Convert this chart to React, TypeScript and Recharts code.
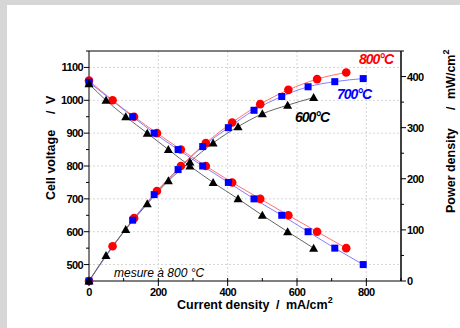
import React from 'react';
import { ComposedChart, Line, XAxis, YAxis, ReferenceLine } from 'recharts';

// current density (mA/cm2), cell voltage (mV), power density (mW/cm2)
const current800 = [0, 68, 130, 196, 265, 337, 413, 494, 575, 658, 742];
const voltage800 = [1060, 1000, 950, 900, 850, 800, 750, 700, 650, 600, 550];
const power800 = [0, 68, 123, 176, 225, 270, 310, 346, 374, 395, 408];

const current700 = [0, 126, 188, 257, 328, 402, 476, 556, 632, 709, 791];
const voltage700 = [1055, 950, 900, 850, 800, 750, 700, 650, 600, 550, 500];
const power700 = [0, 119, 169, 218, 263, 300, 334, 361, 380, 390, 396];

const current600 = [0, 49, 106, 168, 229, 291, 358, 430, 500, 573, 648];
const voltage600 = [1050, 1000, 950, 900, 850, 800, 750, 700, 650, 600, 550];
const power600 = [0, 50, 101, 151, 196, 233, 270, 302, 327, 344, 359];

const xTicks = [0, 100, 200, 300, 400, 500, 600, 700, 800, 900];
const vTicks = [450, 500, 550, 600, 650, 700, 750, 800, 850, 900, 950, 1000, 1050, 1100, 1150];
const pTicks = [0, 50, 100, 150, 200, 250, 300, 350, 400, 450];
const xGrid = [200, 400, 600, 800];
const vGrid = [500, 600, 700, 800, 900, 1000, 1100];

const build = (c: number[], v: number[], p: number[]) => c.map((x, i) => ({ x, v: v[i], p: p[i] }));
const s800 = build(current800, voltage800, power800);
const s700 = build(current700, voltage700, power700);
const s600 = build(current600, voltage600, power600);

const tickFont = { fontFamily: 'Liberation Sans, Arial, sans-serif', fontSize: 11, fontWeight: 700, letterSpacing: -0.6 };

const BottomTick = (props: any) => {
  const { x, y, payload } = props;
  const v = payload.value;
  const major = v % 200 === 0 && v <= 800;
  return (
    <g>
      {major ? (
        <line x1={x} y1={y - 3} x2={x} y2={y + 5} stroke="#000" />
      ) : (
        <line x1={x} y1={y} x2={x} y2={y - 3} stroke="#000" />
      )}
      {major && (
        <text x={x} y={y + 15} textAnchor="middle" fill="#000" style={tickFont}>{v}</text>
      )}
    </g>
  );
};

const TopTick = (props: any) => {
  const { x, y } = props;
  return <line x1={x} y1={y} x2={x} y2={y + 4} stroke="#000" />;
};

const LeftTick = (props: any) => {
  const { x, y, payload } = props;
  const v = payload.value;
  const major = v % 100 === 0;
  return (
    <g>
      <line x1={x} y1={y} x2={x - (major ? 5 : 3)} y2={y} stroke="#000" />
      {major && (
        <text x={x - 6} y={y + 4} textAnchor="end" fill="#000" style={tickFont}>{v}</text>
      )}
    </g>
  );
};

const RightTick = (props: any) => {
  const { x, y, payload } = props;
  const v = payload.value;
  const major = v % 100 === 0;
  return (
    <g>
      <line x1={x} y1={y} x2={x + (major ? 5 : 3)} y2={y} stroke="#000" />
      {major && (
        <text x={x + 6} y={y + 4} textAnchor="start" fill="#000" style={tickFont}>{v}</text>
      )}
    </g>
  );
};

const Circle = (props: any) => {
  const { cx, cy, key } = props;
  return <circle key={key} cx={cx} cy={cy} r={4.3} fill="#ff0000" />;
};
const Square = (props: any) => {
  const { cx, cy, key } = props;
  return <rect key={key} x={cx - 3.5} y={cy - 3.5} width={7} height={7} fill="#0000ff" />;
};
const Triangle = (props: any) => {
  const { cx, cy, key } = props;
  return <polygon key={key} points={`${cx},${cy - 4.5} ${cx - 4.5},${cy + 3.5} ${cx + 4.5},${cy + 3.5}`} fill="#000" />;
};

const title = { fontFamily: 'Liberation Sans, Arial, sans-serif', fontSize: 12.5, fontWeight: 700 };
const tempLabel = { fontFamily: 'Liberation Sans, Arial, sans-serif', fontSize: 14, fontWeight: 700, fontStyle: 'italic' as const, letterSpacing: -1 };

export default function App() {
  return (
    <div style={{ position: 'absolute', left: 0, top: 0, width: 460, height: 328, background: '#d6d6d6', overflow: 'hidden' }}>
      <div style={{ position: 'absolute', left: 7, top: 5, width: 460, height: 340, background: '#fff' }} />
      <div style={{ position: 'absolute', left: 0, top: 0 }}>
        <ComposedChart width={460} height={328} margin={{ top: 0, right: 0, bottom: 0, left: 0 }}>
          <XAxis xAxisId="b" dataKey="x" type="number" domain={[0, 900]} ticks={xTicks} height={47}
            tickSize={0} tickMargin={0} tick={<BottomTick />} axisLine={{ stroke: '#000' }} interval={0} />
          <XAxis xAxisId="t" orientation="top" dataKey="x" type="number" domain={[0, 900]} ticks={xTicks} height={51}
            tickSize={0} tickMargin={0} tick={<TopTick />} axisLine={{ stroke: '#000' }} interval={0} />
          <YAxis yAxisId="v" type="number" domain={[450, 1150]} ticks={vTicks} width={89}
            tickSize={0} tickMargin={0} tick={<LeftTick />} axisLine={{ stroke: '#000' }} interval={0} />
          <YAxis yAxisId="p" orientation="right" type="number" domain={[0, 450]} ticks={pTicks} width={59}
            tickSize={0} tickMargin={0} tick={<RightTick />} axisLine={{ stroke: '#000' }} interval={0} />
          {xGrid.map((g) => (
            <ReferenceLine key={'x' + g} x={g} xAxisId="b" yAxisId="v" stroke="#d4d4d4" strokeDasharray="2 2" />
          ))}
          {vGrid.map((g) => (
            <ReferenceLine key={'y' + g} y={g} xAxisId="b" yAxisId="v" stroke="#d4d4d4" strokeDasharray="2 2" />
          ))}
          <Line data={s800} xAxisId="b" yAxisId="v" dataKey="v" type="monotone" stroke="#ff7070" strokeWidth={1} dot={Circle} isAnimationActive={false} />
          <Line data={s800} xAxisId="b" yAxisId="p" dataKey="p" type="monotone" stroke="#ff7070" strokeWidth={1} dot={Circle} isAnimationActive={false} />
          <Line data={s700} xAxisId="b" yAxisId="v" dataKey="v" type="monotone" stroke="#8080ff" strokeWidth={1} dot={Square} isAnimationActive={false} />
          <Line data={s700} xAxisId="b" yAxisId="p" dataKey="p" type="monotone" stroke="#8080ff" strokeWidth={1} dot={Square} isAnimationActive={false} />
          <Line data={s600} xAxisId="b" yAxisId="v" dataKey="v" type="monotone" stroke="#666" strokeWidth={1} dot={Triangle} isAnimationActive={false} />
          <Line data={s600} xAxisId="b" yAxisId="p" dataKey="p" type="monotone" stroke="#666" strokeWidth={1} dot={Triangle} isAnimationActive={false} />
        </ComposedChart>
      </div>
      <svg width={460} height={328} style={{ position: 'absolute', left: 0, top: 0, pointerEvents: 'none' }}>
        <line x1={401} y1={51} x2={401} y2={281} stroke="#000" />
        <text x={359} y={64} fill="#ff0000" style={tempLabel}>800°C</text>
        <text x={337} y={99} fill="#0000ff" style={tempLabel}>700°C</text>
        <text x={295} y={122} fill="#000" style={tempLabel}>600°C</text>
        <text x={114} y={277} fill="#000" style={{ fontFamily: 'Liberation Sans, Arial, sans-serif', fontSize: 12, fontStyle: 'italic' }}>mesure à 800 °C</text>
        <text y={309} fill="#000" style={title}>
          <tspan x={177}>Current density</tspan>
          <tspan x={276}>/</tspan>
          <tspan x={286}>mA/cm</tspan>
          <tspan dy={-6} fontSize={9}>2</tspan>
        </text>
        <g transform="translate(55,200) rotate(-90)">
          <text y={0} fill="#000" style={title}>
            <tspan x={0}>Cell voltage</tspan>
            <tspan x={86}>/</tspan>
            <tspan x={96}>V</tspan>
          </text>
        </g>
        <g transform="translate(455,213) rotate(-90)">
          <text y={0} fill="#000" style={title}>
            <tspan x={0}>Power density</tspan>
            <tspan x={103}>/</tspan>
            <tspan x={114}>mW/cm</tspan>
            <tspan dy={-6} fontSize={9}>2</tspan>
          </text>
        </g>
      </svg>
    </div>
  );
}
